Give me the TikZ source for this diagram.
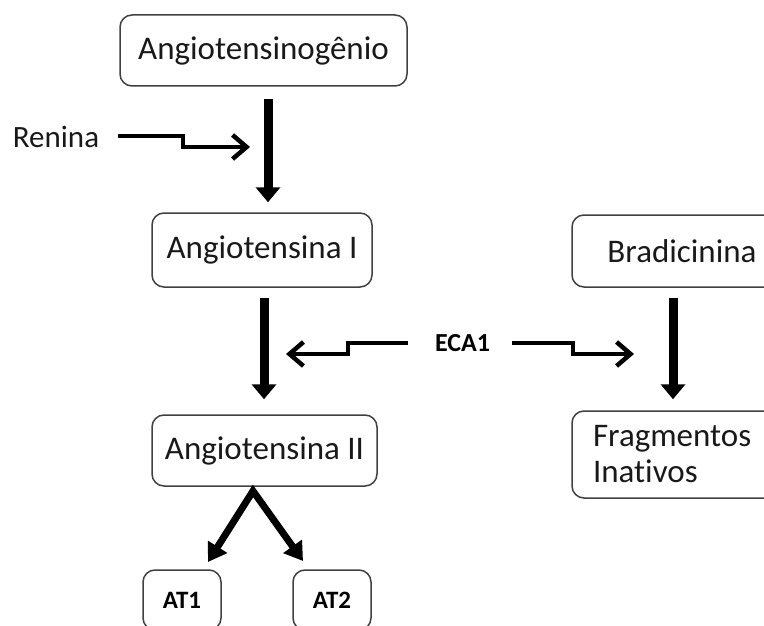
\documentclass[tikz,border=0pt]{standalone}
\usepackage{fontspec}
\setmainfont[Ligatures=NoCommon]{Carlito}
\usetikzlibrary{arrows.meta}
\begin{document}
\begin{tikzpicture}[x=1pt,y=-1pt,
  box/.style={draw=black!75,line width=1.5pt,rounded corners=12pt,font=\fontsize{33}{36}\selectfont,text=black!90,inner sep=0pt},
  smallbox/.style={box,font=\bfseries\fontsize{25}{30}\selectfont,text=black},
  big/.style={line width=9pt,-{Triangle[length=15pt,width=24pt]}},
  wiggle/.style={line width=4.5pt,line join=miter,-{Straight Barb[length=14pt,width=24pt,line width=4.5pt]}},
  lbl/.style={font=\bfseries\fontsize{26}{30}\selectfont,inner sep=0pt}]
\useasboundingbox (0,0) rectangle (764,626);
% boxes
\node[box,minimum width=287pt,minimum height=71pt] (ang) at (263.5,50.5) {Angiotensinogênio};
\node[box,minimum width=220pt,minimum height=74pt] (ang1) at (262,250) {Angiotensina I};
\node[box,minimum width=225pt,minimum height=71pt] (ang2) at (264.5,450.5) {Angiotensina II};
\node[box,minimum width=220pt,minimum height=72pt,text width=186pt,align=center] (brad) at (682,251) {Bradicinina};
\node[box,minimum width=220pt,minimum height=87pt,text width=178pt,align=left] (frag) at (682,454.5) {Fragmentos\\Inativos};
\node[smallbox,minimum width=78pt,minimum height=60pt] (at1) at (182,600) {AT1};
\node[smallbox,minimum width=78pt,minimum height=60pt] (at2) at (332,600) {AT2};
% labels
\node[font=\fontsize{31}{33}\selectfont,inner sep=0pt,text=black!90] (ren) at (56,137) {Renina};
\node[lbl] (eca) at (462.5,343) {ECA1};
% helper coordinates
\coordinate (c1) at (268,0);
\coordinate (c2) at (264,0);
\coordinate (c3) at (673,0);
\coordinate (rtip) at (250,147);
\coordinate (ltip) at (286,354);
\coordinate (etip) at (634,354);
\coordinate (apex) at (253,491);
\coordinate (t1) at (208,562);
\coordinate (t2) at (303,561);
% main arrows
\draw[big,shorten <=12pt,shorten >=10pt] (ang.south -| c1) -- (ang1.north -| c1);
\draw[big,shorten <=10pt,shorten >=15pt] (ang1.south -| c2) -- (ang2.north -| c2);
\draw[big,shorten <=10pt,shorten >=11pt] (brad.south -| c3) -- (frag.north -| c3);
% enzyme arrows
\draw[wiggle] (118,136) -- (183,136) -- (183,147) -- (rtip);
\draw[wiggle] ([xshift=-27pt]eca.west) -- (348,343) -- (348,354) -- (ltip);
\draw[wiggle] ([xshift=22pt]eca.east) -- (573,343) -- (573,354) -- (etip);
% receptor arrows
\draw[line width=7pt,line join=miter,{Triangle[length=18pt,width=22pt]}-{Triangle[length=18pt,width=22pt]}] (t1) -- (apex) -- (t2);
\end{tikzpicture}
\end{document}
